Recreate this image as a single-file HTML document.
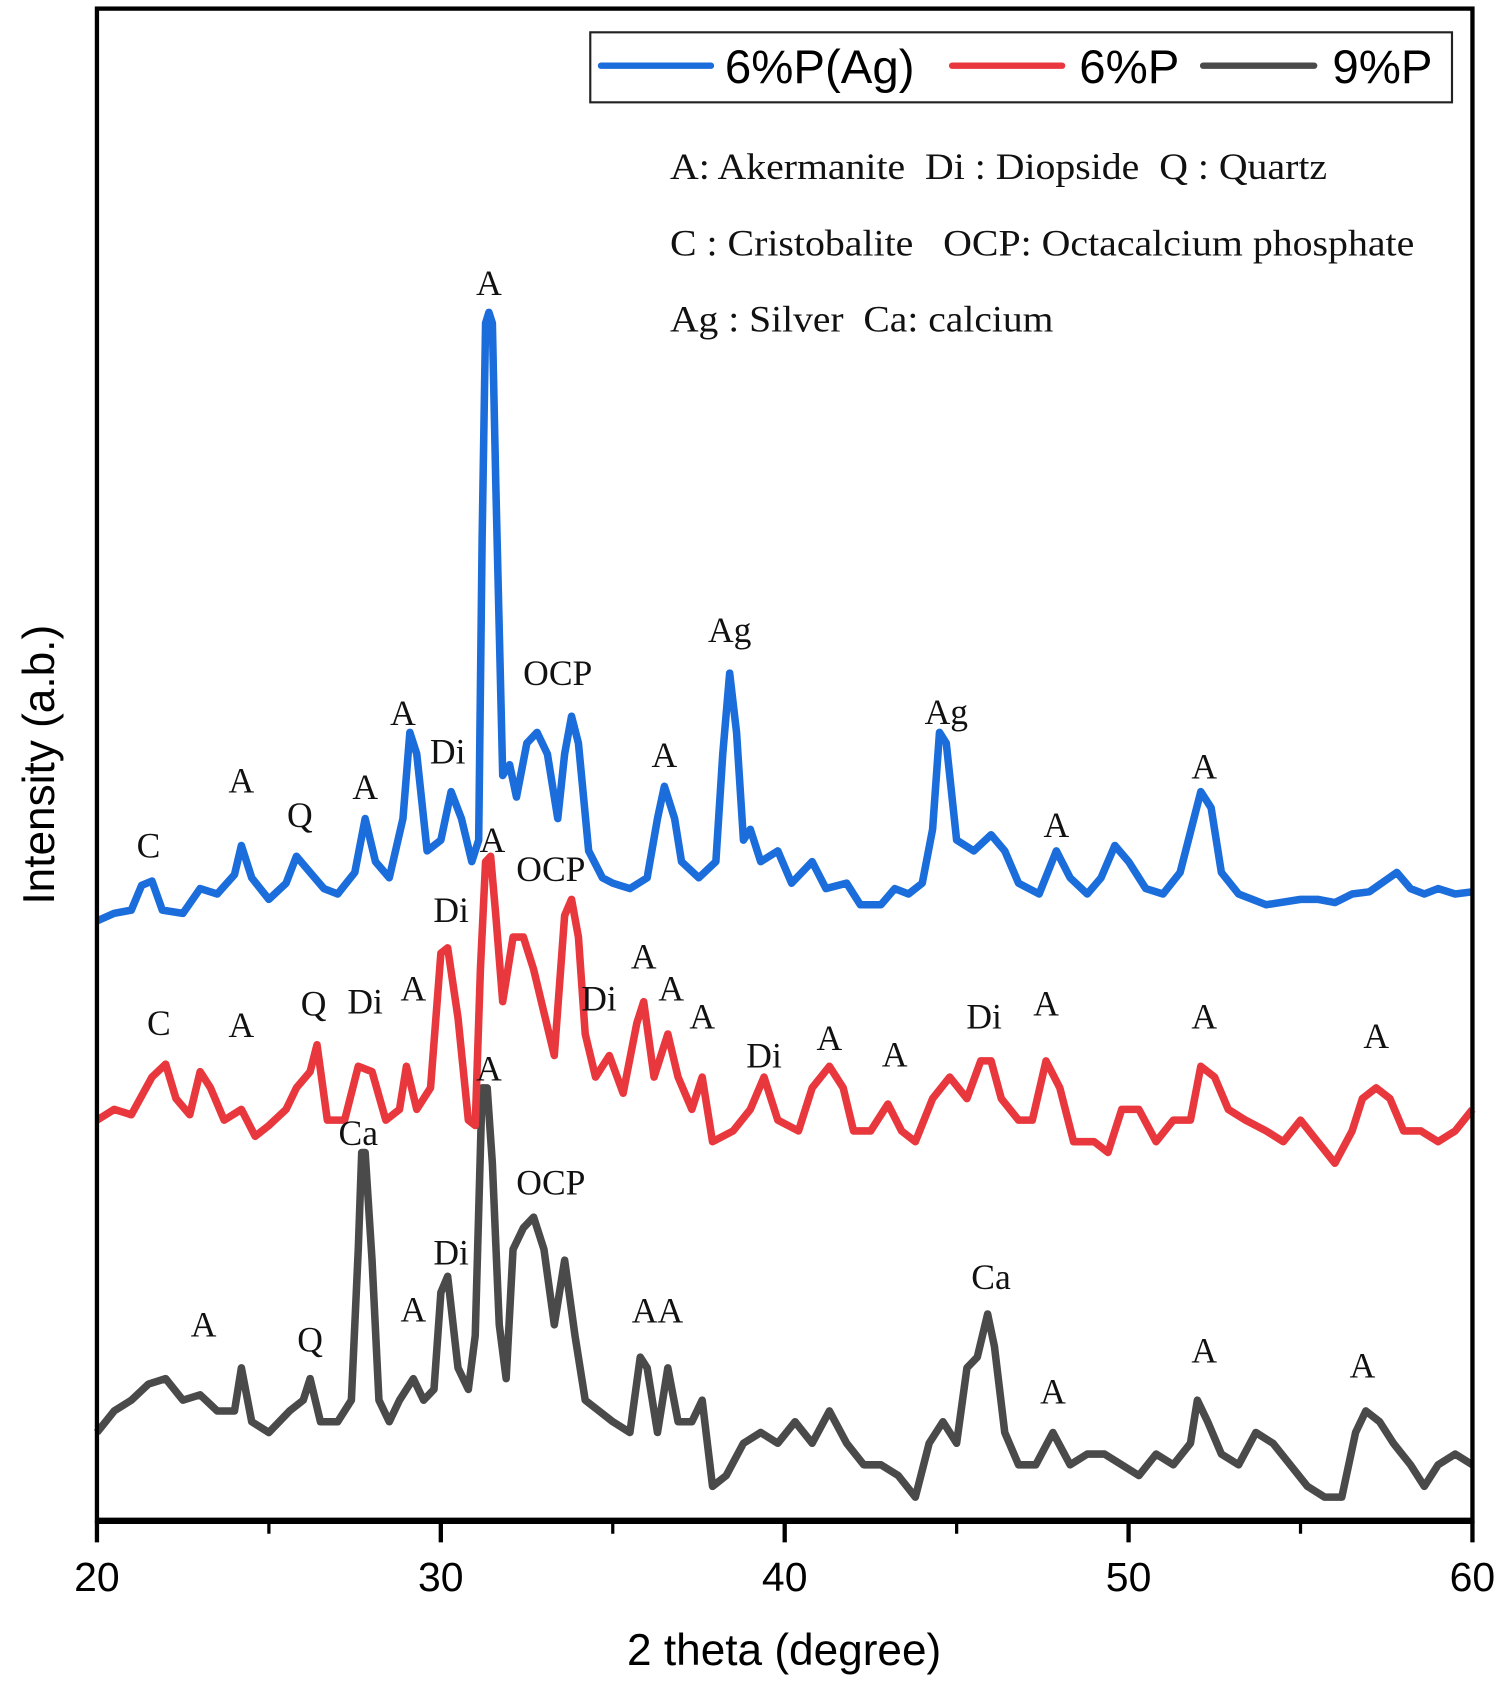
<!DOCTYPE html>
<html><head><meta charset="utf-8"><style>
html,body{margin:0;padding:0;background:#fff;}
svg{display:block;}
.ann{font-family:"Liberation Serif",serif;font-size:33px;fill:#111;text-anchor:middle;}
.note{font-family:"Liberation Serif",serif;font-size:34px;fill:#111;white-space:pre;}
.sans{font-family:"Liberation Sans",sans-serif;fill:#000;}
</style></head><body>
<svg id="chart" width="1508" height="1691" viewBox="0 0 1400 1570" preserveAspectRatio="none" xmlns="http://www.w3.org/2000/svg">
<rect x="0" y="0" width="1400" height="1570" fill="#fff"/>
<g id="series"></g>
<g id="annots"></g>
<rect x="90" y="8" width="1277" height="1404" fill="none" stroke="#000" stroke-width="4"/>
<line x1="90" y1="1412" x2="1367" y2="1412" stroke="#000" stroke-width="6"/>
<g id="xticks"></g>
<text class="sans" x="728" y="1546" font-size="41" text-anchor="middle">2 theta (degree)</text>
<text class="sans" x="0" y="0" font-size="41" text-anchor="middle" transform="translate(50,710) rotate(-90)">Intensity (a.b.)</text>
<g>
<rect x="548" y="30" width="800" height="65" fill="#fff" stroke="#222" stroke-width="2"/>
<line x1="558" y1="61" x2="660" y2="61" stroke="#1a6ddb" stroke-width="6" stroke-linecap="round"/>
<text class="sans" x="673" y="77" font-size="44">6%P(Ag)</text>
<line x1="884" y1="61" x2="986" y2="61" stroke="#e8383d" stroke-width="6" stroke-linecap="round"/>
<text class="sans" x="1002" y="77" font-size="44">6%P</text>
<line x1="1117" y1="61" x2="1220" y2="61" stroke="#4a4a4a" stroke-width="6" stroke-linecap="round"/>
<text class="sans" x="1237" y="77" font-size="44">9%P</text>
</g>
<text class="note" x="622" y="166" textLength="610" lengthAdjust="spacingAndGlyphs">A: Akermanite  Di : Diopside  Q : Quartz</text>
<text class="note" x="622" y="237" textLength="691" lengthAdjust="spacingAndGlyphs">C : Cristobalite   OCP: Octacalcium phosphate</text>
<text class="note" x="622" y="308" textLength="356" lengthAdjust="spacingAndGlyphs">Ag : Silver  Ca: calcium</text>
</svg>
<script>
// x in degrees, values = intensity (arbitrary units, offset stacked)
const blueX=[20,20.5,21,21.3,21.6,21.9,22.5,23,23.5,24,24.2,24.5,25,25.5,25.8,26.2,26.6,27,27.5,27.8,28.1,28.5,28.9,29.1,29.3,29.6,30,30.3,30.6,30.9,31.1,31.2,31.3,31.4,31.5,31.6,31.8,32,32.2,32.5,32.8,33.1,33.4,33.6,33.8,34,34.3,34.7,35,35.5,36,36.3,36.5,36.8,37,37.5,38,38.2,38.4,38.6,38.8,39,39.3,39.8,40.2,40.8,41.2,41.8,42.2,42.8,43.2,43.6,44,44.3,44.5,44.7,45,45.5,46,46.4,46.8,47.4,47.9,48.3,48.8,49.2,49.6,50,50.5,51,51.5,51.9,52.1,52.4,52.7,53.2,54,55,55.5,56,56.5,57,57.8,58.2,58.6,59,59.5,60];
const blueY=[557,564,567,590,594,567,564,587,582,600,627,597,577,592,617,602,587,582,602,652,612,597,652,732,712,622,632,677,652,612,632,912,1112,1122,1112,962,692,702,672,722,732,712,652,712,747,722,622,597,592,587,597,652,682,652,612,597,612,712,787,732,632,642,612,622,592,612,587,592,572,572,587,582,592,642,732,722,632,622,637,622,592,582,622,597,582,597,627,612,587,582,602,652,677,662,602,582,572,577,577,574,582,584,602,587,582,587,582,584];
const redX=[20,20.5,21,21.6,22,22.3,22.7,23,23.3,23.7,24.2,24.6,25,25.5,25.8,26.2,26.4,26.7,27.2,27.6,28,28.4,28.8,29,29.3,29.7,30,30.2,30.5,30.8,31,31.15,31.3,31.45,31.6,31.8,32.1,32.4,32.7,33,33.3,33.6,33.8,34,34.2,34.5,34.9,35.3,35.7,35.9,36.2,36.6,36.9,37.3,37.6,37.9,38.5,39,39.4,39.8,40.4,40.8,41.3,41.7,42,42.5,43,43.4,43.8,44.3,44.8,45.3,45.7,46,46.3,46.8,47.2,47.6,48,48.4,49,49.4,49.8,50.3,50.8,51.3,51.8,52.1,52.5,52.9,53.4,54,54.5,55,55.5,56,56.5,56.8,57.2,57.6,58,58.5,59,59.5,60];
const redY=[372,382,377,412,424,392,377,417,402,372,382,357,367,382,402,417,442,372,372,422,417,372,382,422,382,402,527,532,467,372,367,512,612,617,562,482,542,542,512,472,432,562,577,542,452,412,432,397,462,482,412,452,412,382,412,352,362,382,412,372,362,402,422,402,362,362,387,362,352,392,412,392,427,427,392,372,372,427,402,352,352,342,382,382,352,372,372,422,412,382,372,362,352,372,352,332,362,392,402,392,362,362,352,362,382];
const grayX=[20,20.5,21,21.5,22,22.5,23,23.5,24,24.2,24.5,25,25.6,26,26.2,26.5,27,27.4,27.6,27.7,27.8,28,28.2,28.5,28.8,29.2,29.5,29.8,30,30.2,30.5,30.8,31,31.2,31.35,31.5,31.7,31.9,32.1,32.4,32.7,33,33.3,33.6,33.9,34.2,34.6,35,35.5,35.8,36,36.3,36.6,36.9,37.3,37.6,37.9,38.3,38.8,39.3,39.8,40.3,40.8,41.3,41.8,42.3,42.8,43.3,43.8,44.2,44.6,45,45.3,45.6,45.9,46.1,46.4,46.8,47.3,47.8,48.3,48.8,49.3,49.8,50.3,50.8,51.3,51.8,52,52.3,52.7,53.2,53.7,54.2,54.7,55.2,55.7,56.2,56.6,56.9,57.3,57.7,58.2,58.6,59,59.5,60];
const grayY=[82,102,112,127,132,112,117,102,102,142,92,82,102,112,132,92,92,112,252,342,342,242,112,92,112,132,112,122,212,227,142,122,172,402,402,332,182,132,252,272,282,252,182,242,172,112,102,92,82,152,142,82,142,92,92,112,32,42,72,82,72,92,72,102,72,52,52,42,22,72,92,72,142,152,192,162,82,52,52,82,52,62,62,52,42,62,52,72,112,92,62,52,82,72,52,32,22,22,82,102,92,72,52,32,52,62,52];
const xTicks=[20,30,40,50,60];
const xMinor=[25,35,45,55];
const annLabels=["C","A","Q","A","A","Di","A","OCP","Ag","A","Ag","A","A","A","OCP","Di","C","A","Q","Di","A","Di","A","A","A","Di","A","A","Di","A","A","A","Ca","A","OCP","Di","A","Q","A","AA","Ca","A","A","A"];
const annDeg=[21.5,24.2,25.9,27.8,28.9,30.2,31.4,33.4,38.4,36.5,44.7,47.9,52.2,31.5,33.2,30.3,21.8,24.2,26.3,27.8,29.2,34.6,35.9,36.7,37.6,39.4,41.3,43.2,45.8,47.6,52.2,57.2,27.6,31.4,33.2,30.3,23.1,26.2,29.2,36.3,46.0,47.8,52.2,56.8];
const annVal=[627,687,655,681,750,714,1149,787,827,711,751,646,700,632,605,567,462,460,480,482,494,485,524,494,468,432,448,433,468,480,468,450,360,420,314,249,182,168,196,195,226,120,158,144];

const X0=90,X1=1367,D0=20,D1=60;
function xs(d){return X0+(d-D0)/(D1-D0)*(X1-X0);}
function ys(v){return 1412-v;}
const NS="http://www.w3.org/2000/svg";
const sg=document.getElementById('series');
function drawSeries(X,Y,color,name){
  let d="";
  for(let i=0;i<X.length;i++){d+=(i?"L":"M")+xs(X[i]).toFixed(1)+","+ys(Y[i]).toFixed(1);}
  const p=document.createElementNS(NS,'path');
  p.setAttribute('d',d);p.setAttribute('fill','none');p.setAttribute('stroke',color);
  p.setAttribute('stroke-width','7');p.setAttribute('stroke-linejoin','round');
  
  
  sg.appendChild(p);
}
drawSeries(grayX,grayY,'#4a4a4a','series-9p');
drawSeries(redX,redY,'#e8383d','series-6p');
drawSeries(blueX,blueY,'#1a6ddb','series-6p-ag');
const tg=document.getElementById('xticks');
xTicks.forEach(t=>{
  const l=document.createElementNS(NS,'line');
  l.setAttribute('x1',xs(t));l.setAttribute('x2',xs(t));l.setAttribute('y1',1412);l.setAttribute('y2',1432);
  l.setAttribute('stroke','#000');l.setAttribute('stroke-width','4');
  
  
  tg.appendChild(l);
  const tx=document.createElementNS(NS,'text');
  tx.setAttribute('x',xs(t));tx.setAttribute('y',1477);tx.setAttribute('class','sans');
  tx.setAttribute('font-size','38');tx.setAttribute('text-anchor','middle');tx.textContent=t;
  
  
  tg.appendChild(tx);
});
xMinor.forEach(t=>{
  const l=document.createElementNS(NS,'line');
  l.setAttribute('x1',xs(t));l.setAttribute('x2',xs(t));l.setAttribute('y1',1412);l.setAttribute('y2',1424);
  l.setAttribute('stroke','#000');l.setAttribute('stroke-width','3');
  
  
  tg.appendChild(l);
});
const ag=document.getElementById('annots');
annLabels.forEach((s,i)=>{
  const tx=document.createElementNS(NS,'text');
  tx.setAttribute('x',xs(annDeg[i]));tx.setAttribute('y',ys(annVal[i])+11);
  tx.setAttribute('class','ann');tx.textContent=s;
  
  
  ag.appendChild(tx);
});
</script>
</body></html>
